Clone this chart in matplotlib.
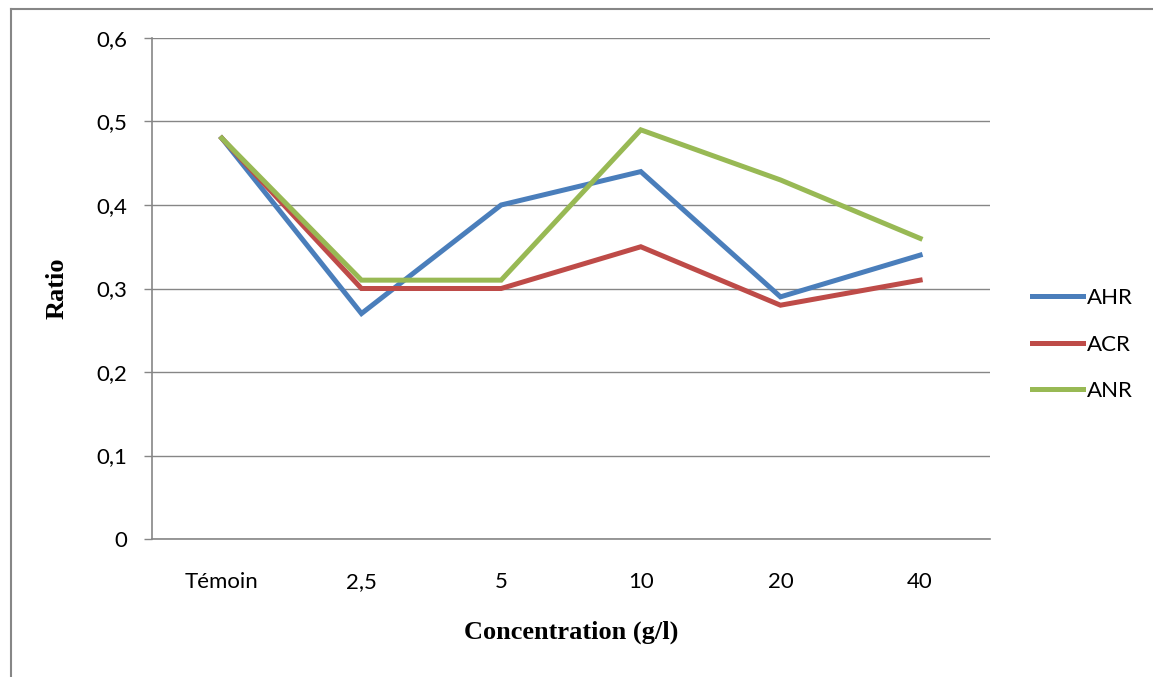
import matplotlib.pyplot as plt
from matplotlib.lines import Line2D

categories = ["Témoin", "2,5", "5", "10", "20", "40"]
ahr = [0.48, 0.27, 0.40, 0.44, 0.29, 0.34]
acr = [0.48, 0.30, 0.30, 0.35, 0.28, 0.31]
anr = [0.48, 0.31, 0.31, 0.49, 0.43, 0.36]
y_ticks = [0, 0.1, 0.2, 0.3, 0.4, 0.5, 0.6]
y_tick_labels = ["0", "0,1", "0,2", "0,3", "0,4", "0,5", "0,6"]

grid_color = "#868686"
tick_font = {"family": ["Lato", "DejaVu Sans"], "size": 16}
label_font = {"family": ["Liberation Serif", "DejaVu Serif"], "size": 19, "weight": "bold"}

fig = plt.figure(figsize=(11.53, 6.77), dpi=100)
ax = fig.add_axes([0.1318, 0.2038, 0.8586 - 0.1318, 0.9439 - 0.2038])

x = list(range(len(categories)))
ax.plot(x, ahr, color="#4A7EBB", lw=3.6, label="AHR", solid_joinstyle="miter")
ax.plot(x, acr, color="#BE4B48", lw=3.6, label="ACR", solid_joinstyle="miter")
ax.plot(x, anr, color="#98B954", lw=3.6, label="ANR", solid_joinstyle="miter")

ax.set_xlim(-0.5, len(categories) - 0.5)
ax.set_ylim(0, 0.6)
ax.set_yticks(y_ticks)
ax.set_yticklabels(y_tick_labels, fontdict=tick_font)
ax.set_xticks(x)
ax.set_xticklabels(categories, fontdict=tick_font)
ax.yaxis.grid(True, color=grid_color, lw=1)
ax.set_axisbelow(True)

ax.tick_params(axis="y", length=6, width=1, color=grid_color, pad=12)
ax.tick_params(axis="x", length=0, pad=24)
for side in ["top", "right"]:
    ax.spines[side].set_visible(False)
for side in ["left", "bottom"]:
    ax.spines[side].set_color(grid_color)
    ax.spines[side].set_linewidth(1.2)

ax.set_ylabel("Ratio", fontdict=label_font, labelpad=20)
ax.set_xlabel("Concentration (g/l)", fontdict=label_font, labelpad=20)

fig.legend(loc="center left", bbox_to_anchor=(0.878, 0.491), frameon=False,
           prop={"family": ["Lato", "DejaVu Sans"], "size": 16},
           handlelength=2.3, handletextpad=0.15, labelspacing=1.2)

# outer chart frame (left and top edges)
fig.add_artist(Line2D([0.0095, 0.0095], [0, 0.987], transform=fig.transFigure,
                      color=grid_color, lw=1.5))
fig.add_artist(Line2D([0.0095, 1], [0.987, 0.987], transform=fig.transFigure,
                      color=grid_color, lw=1.5))

fig.savefig("out.png", dpi=100)
